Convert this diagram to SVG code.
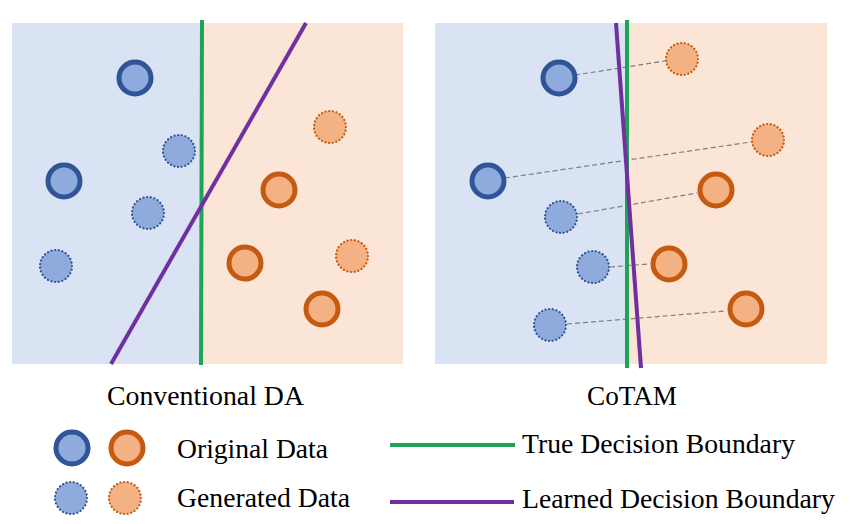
<svg xmlns="http://www.w3.org/2000/svg" width="851" height="524" viewBox="0 0 851 524">
<style>
.bgb{fill:#DAE3F3}
.bgo{fill:#FBE5D6}
.ob{fill:#8FAADC;stroke:#2F5597;stroke-width:5}
.oo{fill:#F4B183;stroke:#C55A11;stroke-width:5}
.gb{fill:#8FAADC;stroke:#2F5597;stroke-width:2.2;stroke-dasharray:0.1 3.6;stroke-linecap:round}
.go{fill:#F4B183;stroke:#C55A11;stroke-width:2.2;stroke-dasharray:0.1 3.6;stroke-linecap:round}
.true{stroke:#1FA356;stroke-width:4;fill:none}
.learn{stroke:#7030A0;stroke-width:4;fill:none}
.dash{stroke:#7F7F7F;stroke-width:1.2;stroke-dasharray:5 3;fill:none}
.t{font-family:"Liberation Serif","Times New Roman",serif;font-size:28px;fill:#000}
</style>
<rect width="851" height="524" fill="#FFFFFF"/>
<g id="panel-left">
<rect class="bgb" x="12" y="23" width="190" height="341"/>
<rect class="bgo" x="202" y="23" width="201" height="341"/>
</g>
<g id="panel-right">
<rect class="bgb" x="435" y="23" width="192" height="341"/>
<rect class="bgo" x="627" y="23" width="200" height="341"/>
</g>
<g id="connectors">
<line class="dash" x1="575" y1="75" x2="665" y2="61"/>
<line class="dash" x1="505" y1="178" x2="751" y2="142"/>
<line class="dash" x1="578" y1="214" x2="697" y2="193"/>
<line class="dash" x1="610" y1="267" x2="649" y2="264"/>
<line class="dash" x1="567" y1="324" x2="726" y2="311"/>
</g>
<g id="boundaries">
<line class="true" x1="202" y1="20" x2="201" y2="365"/>
<line class="learn" x1="306" y1="23" x2="111" y2="364"/>
<line class="true" x1="627" y1="20" x2="627" y2="368"/>
<line class="learn" x1="616" y1="23" x2="641" y2="368"/>
</g>
<g id="left-points">
<circle id="l-ob1" class="ob" cx="135" cy="78" r="16"/>
<circle id="l-gb1" class="gb" cx="179" cy="151" r="16"/>
<circle id="l-ob2" class="ob" cx="64" cy="181" r="16"/>
<circle id="l-gb2" class="gb" cx="148" cy="213" r="16"/>
<circle id="l-gb3" class="gb" cx="56" cy="266" r="16"/>
<circle id="l-go1" class="go" cx="330" cy="127" r="16"/>
<circle id="l-oo1" class="oo" cx="279" cy="190" r="16"/>
<circle id="l-oo2" class="oo" cx="245" cy="263" r="16"/>
<circle id="l-go2" class="go" cx="352" cy="256" r="16"/>
<circle id="l-oo3" class="oo" cx="322" cy="309" r="16"/>
</g>
<g id="right-points">
<circle id="r-ob1" class="ob" cx="559" cy="78" r="16"/>
<circle id="r-go1" class="go" cx="682" cy="59" r="16"/>
<circle id="r-go2" class="go" cx="768" cy="140" r="16"/>
<circle id="r-ob2" class="ob" cx="488" cy="181" r="16"/>
<circle id="r-oo1" class="oo" cx="716" cy="190" r="16"/>
<circle id="r-gb1" class="gb" cx="561" cy="217" r="16"/>
<circle id="r-gb2" class="gb" cx="593" cy="267" r="16"/>
<circle id="r-oo2" class="oo" cx="669" cy="264" r="16"/>
<circle id="r-gb3" class="gb" cx="550" cy="325" r="16"/>
<circle id="r-oo3" class="oo" cx="746" cy="309" r="16"/>
</g>
<g id="titles">
<text class="t" x="107" y="405" textLength="197" lengthAdjust="spacingAndGlyphs">Conventional DA</text>
<text class="t" x="587" y="405" textLength="90" lengthAdjust="spacingAndGlyphs">CoTAM</text>
</g>
<g id="legend">
<circle class="ob" cx="72" cy="448" r="16"/>
<circle class="oo" cx="127" cy="448" r="16"/>
<circle class="gb" cx="71" cy="498" r="16"/>
<circle class="go" cx="125" cy="498" r="16"/>
<text class="t" x="177" y="458" textLength="151" lengthAdjust="spacingAndGlyphs">Original Data</text>
<text class="t" x="177" y="507" textLength="173" lengthAdjust="spacingAndGlyphs">Generated Data</text>
<line class="true" x1="390" y1="445" x2="515" y2="445"/>
<line class="learn" x1="390" y1="502" x2="514" y2="502"/>
<text class="t" x="522" y="453" textLength="273" lengthAdjust="spacingAndGlyphs">True Decision Boundary</text>
<text class="t" x="522" y="508" textLength="313" lengthAdjust="spacingAndGlyphs">Learned Decision Boundary</text>
</g>
</svg>
